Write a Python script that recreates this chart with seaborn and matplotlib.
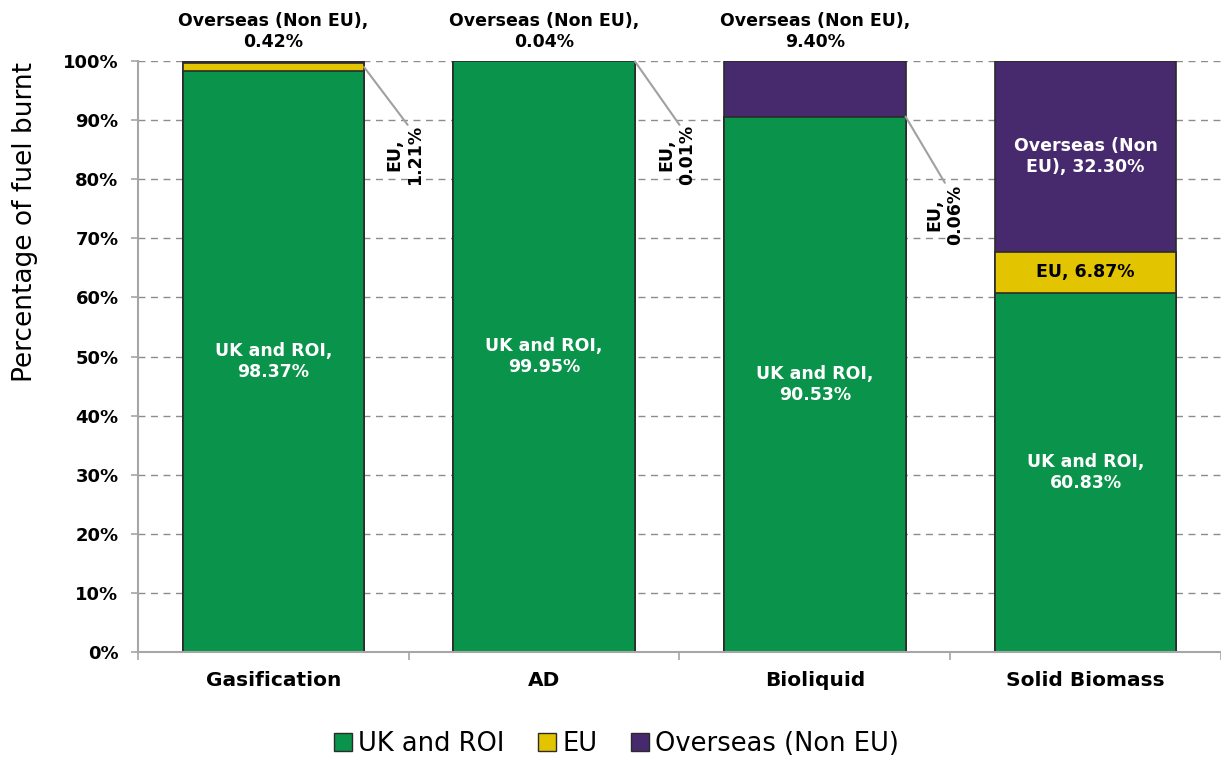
import matplotlib
matplotlib.use("Agg")
import matplotlib.pyplot as plt
import seaborn as sns
import numpy as np
import pandas as pd

# Fuel origin shares (% of fuel burnt) for each technology
categories = ["Gasification", "AD", "Bioliquid", "Solid Biomass"]
uk_roi = [98.37, 99.95, 90.53, 60.83]
eu = [1.21, 0.01, 0.06, 6.87]
overseas = [0.42, 0.04, 9.40, 32.30]
series_names = ["UK and ROI", "EU", "Overseas (Non EU)"]
yticks = list(range(0, 101, 10))

GREEN = "#0A934A"
YELLOW = "#E2C400"
PURPLE = "#472A6D"
EDGE = "#2B2B2B"
GRID = "#8C8C8C"
AXIS = "#A6A6A6"

sns.set_theme(style="white")
plt.rcParams["font.family"] = ["DejaVu Sans"]
plt.rcParams["text.color"] = "black"
plt.rcParams["axes.labelcolor"] = "black"
plt.rcParams["xtick.color"] = "black"
plt.rcParams["ytick.color"] = "black"

fig = plt.figure(figsize=(12.21, 7.57), dpi=100)
ax = fig.add_axes([0.113, 0.1387, 0.887, 0.7807])

df = pd.DataFrame({"cat": categories, "uk": uk_roi, "eu": eu, "os": overseas})
df["c1"] = df["uk"]
df["c2"] = df["uk"] + df["eu"]
df["c3"] = df["c2"] + df["os"]

# Stacked bars drawn as overlapping cumulative layers, tallest first
bw = 0.67
for col, colour in [("c3", PURPLE), ("c2", YELLOW), ("c1", GREEN)]:
    sns.barplot(data=df, x="cat", y=col, color=colour, width=bw,
                edgecolor=EDGE, linewidth=1.2, saturation=1, ax=ax,
                order=categories)

ax.set_xlim(-0.5, len(categories) - 0.5)
ax.set_ylim(0, 100)
ax.set_yticks(yticks)
ax.set_yticklabels([f"{v}%" for v in yticks], fontweight="bold", fontsize=13)
ax.yaxis.grid(True, linestyle=(0, (5, 4)), color=GRID, linewidth=1)
ax.xaxis.grid(False)
ax.set_axisbelow(True)

ax.set_xlabel("")
ax.set_ylabel("Percentage of fuel burnt", fontsize=19, color="black")
ax.yaxis.set_label_coords(-0.092, 0.728)

for s in ["top", "right"]:
    ax.spines[s].set_visible(False)
for s in ["left", "bottom"]:
    ax.spines[s].set_color(AXIS)
    ax.spines[s].set_linewidth(1.5)

ax.tick_params(axis="y", which="major", left=True, length=5, width=1.2,
               color=AXIS, pad=9, labelcolor="black")
ax.set_xticks(range(len(categories)))
ax.set_xticklabels(categories, fontweight="bold", fontsize=14.5, color="black")
ax.tick_params(axis="x", which="major", bottom=False, length=0, pad=14,
               labelcolor="black")
ax.set_xticks(np.arange(-0.5, len(categories) - 0.4, 1.0), minor=True)
ax.tick_params(axis="x", which="minor", bottom=True, length=6, width=1.2,
               color=AXIS)

lbl = dict(fontsize=12.5, fontweight="bold", ha="center", va="center")

# Labels inside the bars (white)
for i in range(len(categories)):
    ax.text(i, uk_roi[i] / 2, f"UK and ROI,\n{uk_roi[i]:.2f}%", color="white", **lbl)
ax.text(3, uk_roi[3] + eu[3] / 2, f"EU, {eu[3]:.2f}%", color="black", **lbl)
ax.text(3, uk_roi[3] + eu[3] + overseas[3] / 2,
        f"Overseas (Non\nEU), {overseas[3]:.2f}%", color="white", **lbl)

# Overseas labels above the first three bars
for i in range(3):
    ax.text(i, 105.0, f"Overseas (Non EU),\n{overseas[i]:.2f}%", color="black",
            clip_on=False, **lbl)

# Rotated EU labels with leader lines
eu_label_pos = [(0.485, 84.1), (1.49, 84.1), (2.48, 74.0)]
line_end = [(0.496, 89.2), (1.5, 89.2), (2.48, 79.4)]
for i in range(3):
    x0 = i + bw / 2
    y0 = uk_roi[i] + eu[i] / 2 if i == 0 else uk_roi[i] + eu[i]
    ax.plot([x0, line_end[i][0]], [y0, line_end[i][1]], color="#A0A0A0",
            linewidth=1.5, clip_on=False, zorder=5)
    ax.text(eu_label_pos[i][0], eu_label_pos[i][1], f"EU,\n{eu[i]:.2f}%",
            rotation=90, color="black", multialignment="center", **lbl)

handles = [plt.Rectangle((0, 0), 1, 1, facecolor=c, edgecolor=EDGE, linewidth=1)
           for c in (GREEN, YELLOW, PURPLE)]
leg = fig.legend(handles, series_names, loc="lower center",
                 bbox_to_anchor=(0.505, -0.03), ncol=3, frameon=False,
                 fontsize=18.5, handlelength=0.7, handleheight=0.7,
                 handletextpad=0.25, columnspacing=1.3)
for t in leg.get_texts():
    t.set_color("black")

fig.savefig("out.png", dpi=100)
